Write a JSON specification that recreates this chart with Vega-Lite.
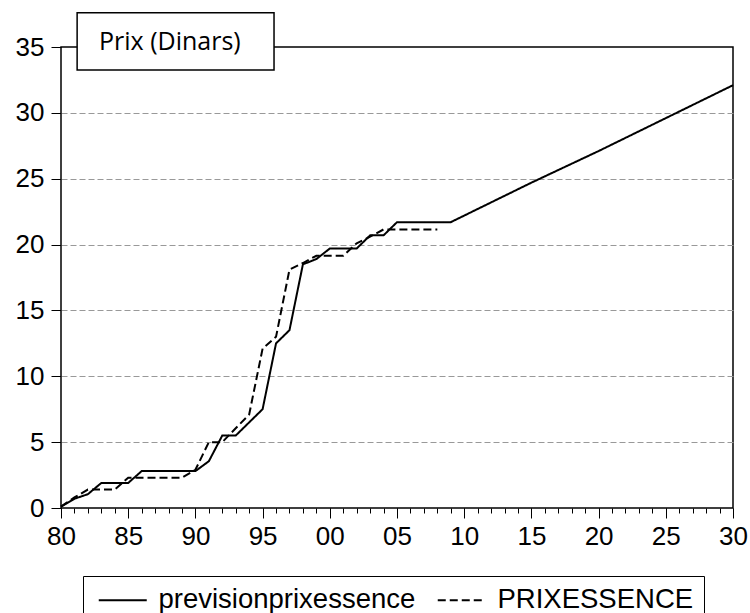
{
  "$schema": "https://vega.github.io/schema/vega-lite/v6.json",
  "width": 672,
  "height": 461,
  "autosize": {"type": "none"},
  "padding": {"left": 61, "top": 47, "right": 17, "bottom": 105},
  "background": "white",
  "config": {"view": {"stroke": "black", "strokeWidth": 1.5}, "font": "Liberation Sans"},
  "datasets": {
    "lines": [
      {"year": 1980, "value": 0.1, "series": "previsionprixessence"},
      {"year": 1981, "value": 0.7, "series": "previsionprixessence"},
      {"year": 1982, "value": 1.05, "series": "previsionprixessence"},
      {"year": 1983, "value": 1.9, "series": "previsionprixessence"},
      {"year": 1984, "value": 1.9, "series": "previsionprixessence"},
      {"year": 1985, "value": 1.9, "series": "previsionprixessence"},
      {"year": 1986, "value": 2.8, "series": "previsionprixessence"},
      {"year": 1987, "value": 2.8, "series": "previsionprixessence"},
      {"year": 1988, "value": 2.8, "series": "previsionprixessence"},
      {"year": 1989, "value": 2.8, "series": "previsionprixessence"},
      {"year": 1990, "value": 2.8, "series": "previsionprixessence"},
      {"year": 1991, "value": 3.55, "series": "previsionprixessence"},
      {"year": 1992, "value": 5.5, "series": "previsionprixessence"},
      {"year": 1993, "value": 5.5, "series": "previsionprixessence"},
      {"year": 1994, "value": 6.5, "series": "previsionprixessence"},
      {"year": 1995, "value": 7.5, "series": "previsionprixessence"},
      {"year": 1996, "value": 12.5, "series": "previsionprixessence"},
      {"year": 1997, "value": 13.5, "series": "previsionprixessence"},
      {"year": 1998, "value": 18.5, "series": "previsionprixessence"},
      {"year": 1999, "value": 18.9, "series": "previsionprixessence"},
      {"year": 2000, "value": 19.7, "series": "previsionprixessence"},
      {"year": 2001, "value": 19.7, "series": "previsionprixessence"},
      {"year": 2002, "value": 19.7, "series": "previsionprixessence"},
      {"year": 2003, "value": 20.7, "series": "previsionprixessence"},
      {"year": 2004, "value": 20.7, "series": "previsionprixessence"},
      {"year": 2005, "value": 21.7, "series": "previsionprixessence"},
      {"year": 2006, "value": 21.7, "series": "previsionprixessence"},
      {"year": 2007, "value": 21.7, "series": "previsionprixessence"},
      {"year": 2008, "value": 21.7, "series": "previsionprixessence"},
      {"year": 2009, "value": 21.7, "series": "previsionprixessence"},
      {"year": 2015, "value": 24.7, "series": "previsionprixessence"},
      {"year": 2020, "value": 27.1, "series": "previsionprixessence"},
      {"year": 2025, "value": 29.6, "series": "previsionprixessence"},
      {"year": 2030, "value": 32.1, "series": "previsionprixessence"},
      {"year": 1980, "value": 0.1, "series": "PRIXESSENCE"},
      {"year": 1981, "value": 0.8, "series": "PRIXESSENCE"},
      {"year": 1982, "value": 1.4, "series": "PRIXESSENCE"},
      {"year": 1983, "value": 1.4, "series": "PRIXESSENCE"},
      {"year": 1984, "value": 1.4, "series": "PRIXESSENCE"},
      {"year": 1985, "value": 2.3, "series": "PRIXESSENCE"},
      {"year": 1986, "value": 2.3, "series": "PRIXESSENCE"},
      {"year": 1987, "value": 2.3, "series": "PRIXESSENCE"},
      {"year": 1988, "value": 2.3, "series": "PRIXESSENCE"},
      {"year": 1989, "value": 2.3, "series": "PRIXESSENCE"},
      {"year": 1990, "value": 2.9, "series": "PRIXESSENCE"},
      {"year": 1991, "value": 5.0, "series": "PRIXESSENCE"},
      {"year": 1992, "value": 5.0, "series": "PRIXESSENCE"},
      {"year": 1993, "value": 6.05, "series": "PRIXESSENCE"},
      {"year": 1994, "value": 7.1, "series": "PRIXESSENCE"},
      {"year": 1995, "value": 12.1, "series": "PRIXESSENCE"},
      {"year": 1996, "value": 13.0, "series": "PRIXESSENCE"},
      {"year": 1997, "value": 18.1, "series": "PRIXESSENCE"},
      {"year": 1998, "value": 18.6, "series": "PRIXESSENCE"},
      {"year": 1999, "value": 19.15, "series": "PRIXESSENCE"},
      {"year": 2000, "value": 19.15, "series": "PRIXESSENCE"},
      {"year": 2001, "value": 19.15, "series": "PRIXESSENCE"},
      {"year": 2002, "value": 20.1, "series": "PRIXESSENCE"},
      {"year": 2003, "value": 20.6, "series": "PRIXESSENCE"},
      {"year": 2004, "value": 21.15, "series": "PRIXESSENCE"},
      {"year": 2005, "value": 21.15, "series": "PRIXESSENCE"},
      {"year": 2006, "value": 21.15, "series": "PRIXESSENCE"},
      {"year": 2007, "value": 21.15, "series": "PRIXESSENCE"},
      {"year": 2008, "value": 21.15, "series": "PRIXESSENCE"}
    ],
    "box": [{"label": "Prix (Dinars)"}]
  },
  "layer": [
    {
      "data": {"name": "lines"},
      "mark": {"type": "line", "color": "black", "strokeWidth": 2},
      "encoding": {
        "x": {
          "field": "year", "type": "quantitative",
          "scale": {"domain": [1980, 2030], "nice": false, "zero": false},
          "axis": {
            "title": null, "orient": "bottom",
            "values": [1980, 1985, 1990, 1995, 2000, 2005, 2010, 2015, 2020, 2025, 2030],
            "labelExpr": "slice(toString(datum.value), 2)",
            "tickSize": 10, "tickColor": "black", "tickWidth": 1,
            "domain": false, "grid": false,
            "labelFontSize": 26, "labelColor": "black", "labelPadding": 5,
            "labelFlush": false, "labelOverlap": false, "labelBound": false
          }
        },
        "y": {
          "field": "value", "type": "quantitative",
          "scale": {"domain": [0, 35], "nice": false},
          "axis": {
            "title": null,
            "values": [0, 5, 10, 15, 20, 25, 30, 35],
            "grid": true, "gridDash": [6, 3], "gridColor": "#999999", "gridWidth": 1,
            "gridOpacity": {"condition": {"test": "datum.value == 0 || datum.value == 35", "value": 0}, "value": 1},
            "domain": false, "tickColor": "black", "tickSize": 10, "tickWidth": 1,
            "labelFontSize": 26, "labelColor": "black", "labelPadding": 7
          }
        },
        "strokeDash": {
          "field": "series", "type": "nominal",
          "scale": {"domain": ["previsionprixessence", "PRIXESSENCE"], "range": [[1, 0], [8, 4]]},
          "legend": {
            "title": null, "orient": "none", "legendX": 22, "legendY": 529,
            "direction": "horizontal", "columns": 2,
            "strokeColor": "black", "padding": 10,
            "symbolType": "M-1,0H5", "symbolSize": 256, "symbolStrokeWidth": 2, "symbolStrokeColor": "black",
            "labelFontSize": 27.5, "labelColor": "black", "labelOffset": 38, "columnPadding": 16, "labelLimit": 400
          }
        }
      }
    },
    {
      "data": {"name": "box"},
      "mark": {"type": "rect", "fill": "white", "stroke": "black", "strokeWidth": 1.5},
      "encoding": {
        "x": {
          "datum": 1981.2, "type": "quantitative",
          "axis": {
            "title": null, "orient": "bottom",
            "values": [1980, 1981, 1982, 1983, 1984, 1985, 1986, 1987, 1988, 1989, 1990, 1991, 1992, 1993, 1994, 1995, 1996, 1997, 1998, 1999, 2000, 2001, 2002, 2003, 2004, 2005, 2006, 2007, 2008, 2009, 2010, 2011, 2012, 2013, 2014, 2015, 2016, 2017, 2018, 2019, 2020, 2021, 2022, 2023, 2024, 2025, 2026, 2027, 2028, 2029, 2030],
            "labels": false, "tickSize": 5, "tickColor": "black", "tickWidth": 1,
            "domain": false, "grid": false
          }
        },
        "x2": {"datum": 1995.85},
        "y": {"datum": 37.6, "type": "quantitative", "axis": null},
        "y2": {"datum": 33.25}
      }
    },
    {
      "data": {"name": "box"},
      "mark": {"type": "text", "font": "Open Sans", "fontSize": 25, "baseline": "middle", "align": "center", "color": "black"},
      "encoding": {
        "x": {"datum": 1988.1, "type": "quantitative", "axis": null},
        "y": {"datum": 35.4, "type": "quantitative", "axis": null},
        "text": {"field": "label"}
      }
    }
  ],
  "resolve": {"axis": {"x": "independent", "y": "independent"}}
}
